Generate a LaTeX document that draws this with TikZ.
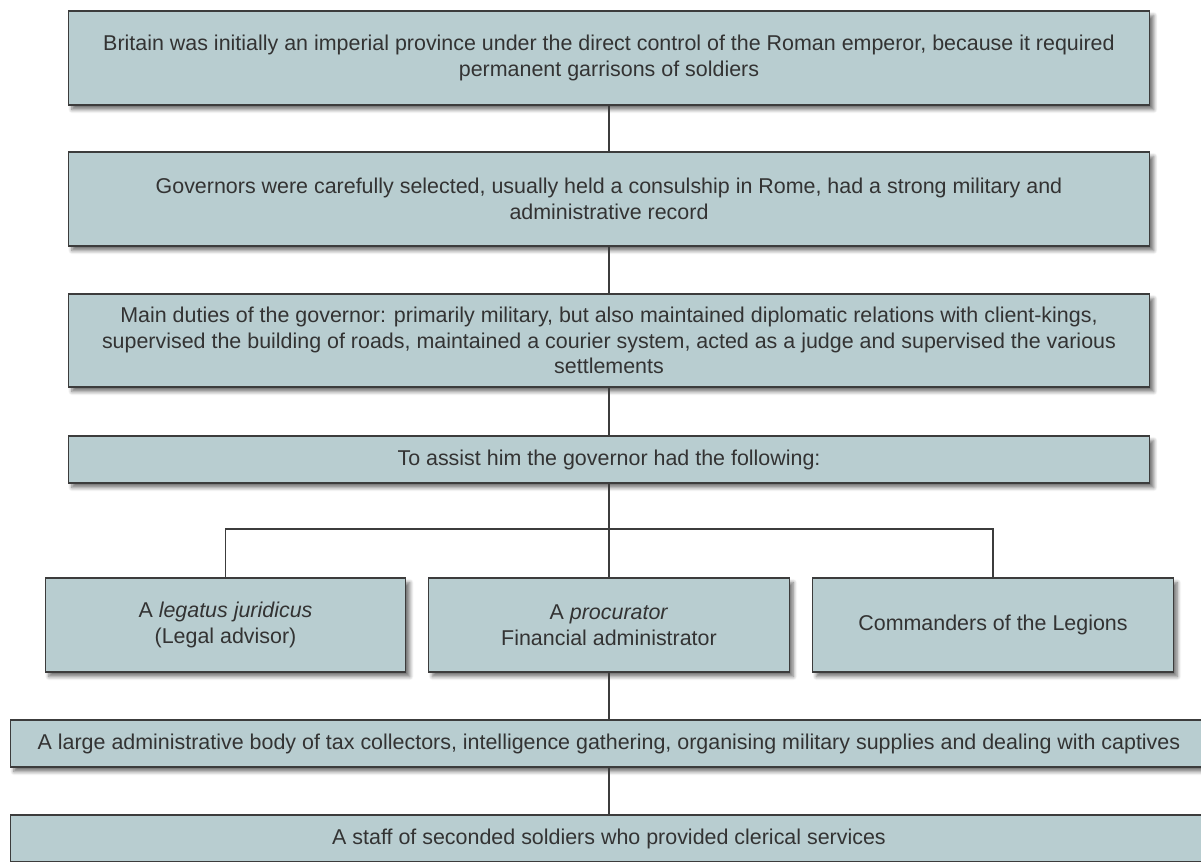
\documentclass[tikz,border=0pt]{standalone}
\usepackage{fontspec}
\setmainfont{Liberation Sans}
\usepackage{tikz}
\usetikzlibrary{positioning, calc, shadows.blur}

\definecolor{boxfill}{HTML}{B8CDD0}
\definecolor{boxline}{HTML}{3C3C3C}
\definecolor{boxtext}{HTML}{333333}

\tikzset{
    infobox/.style={draw=boxline, line width=0.6pt, fill=boxfill, text=boxtext,
        align=center, inner sep=0pt,
        font=\fontsize{12.2}{14.7}\selectfont,
        blur shadow={shadow xshift=2.2pt, shadow yshift=-2.6pt, shadow blur steps=6, shadow opacity=55}},
    wide/.style={infobox, minimum width=21.64cm},
    side/.style={infobox, minimum width=7.22cm, minimum height=1.88cm},
    link/.style={draw=boxline, line width=0.6pt}
}

\begin{document}
\begin{tikzpicture}[x=0.02cm, y=-0.02cm]
    \useasboundingbox (0,0) rectangle (1201,862);

    % Main chain
    \node[wide, minimum height=1.88cm] (prov) at (609,58)
        {Britain was initially an imperial province under the direct control of the Roman emperor, because it required\\permanent garrisons of soldiers};
    \node[wide, minimum height=1.88cm] (gov) at (609,199)
        {Governors were carefully selected, usually held a consulship in Rome, had a strong military and\\administrative record};
    \node[wide, minimum height=1.86cm] (duties) at (609,340.5)
        {Main duties of the governor: primarily military, but also maintained diplomatic relations with client-kings,\\supervised the building of roads, maintained a courier system, acted as a judge and supervised the various\\settlements};
    \node[wide, minimum height=0.94cm] (assist) at (609,459.5)
        {To assist him the governor had the following:};

    % Assistants
    \coordinate (split) at (609,529);
    \node[side] (legatus) at (225.5,625) {A \textit{legatus juridicus}\\(Legal advisor)};
    \node[side] (procur) at (609,625) {A \textit{procurator}\\Financial administrator};
    \node[side] (legions) at (993,625) {Commanders of the Legions};

    % Staff below the procurator
    \node[infobox, minimum width=23.96cm, minimum height=0.94cm] (body) at (609,743.5)
        {A large administrative body of tax collectors, intelligence gathering, organising military supplies and dealing with captives};
    \node[infobox, minimum width=23.96cm, minimum height=0.94cm] (staff) at (609,838.5)
        {A staff of seconded soldiers who provided clerical services};

    % Connectors
    \draw[link] (prov) -- (gov);
    \draw[link] (gov) -- (duties);
    \draw[link] (duties) -- (assist);
    \draw[link] (assist) -- (split);
    \draw[link] (legatus.north) |- (split) -| (legions.north);
    \draw[link] (split) -- (procur);
    \draw[link] (procur) -- (body);
    \draw[link] (body) -- (staff);
\end{tikzpicture}
\end{document}
